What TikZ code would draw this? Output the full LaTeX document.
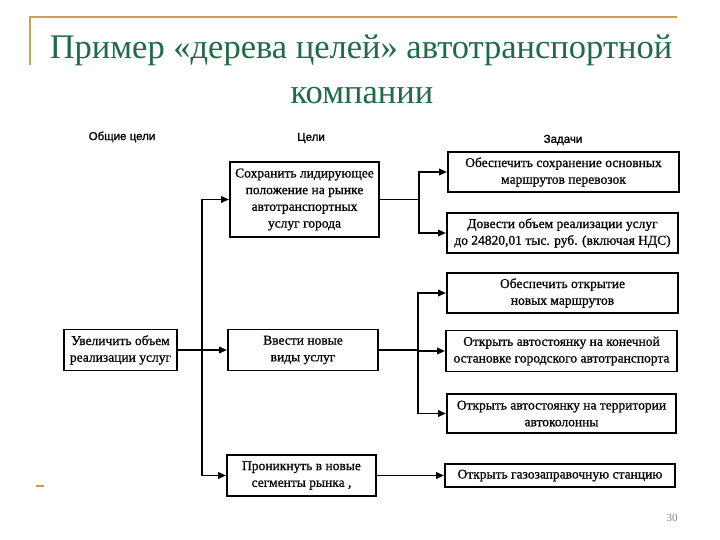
\documentclass[tikz,border=0pt]{standalone}
\usepackage{fontspec}
\setmainfont{Liberation Serif}
\newfontfamily\headfont[FakeBold=1.2]{Liberation Sans}
\newfontfamily\boxfont[FakeBold=0.8]{Liberation Serif}
\usetikzlibrary{arrows.meta}
\definecolor{titlegreen}{HTML}{1F6B47}
\definecolor{slidegold}{HTML}{C4A54C}
\tikzset{
  goal/.style={draw,shape=rectangle,line width=1.9pt,inner sep=0pt,align=center,
    font=\boxfont\fontsize{13.5}{16.7}\selectfont},
  link/.style={line width=1.9pt,-{Triangle[length=8pt,width=6.5pt]}},
  wire/.style={line width=1.9pt},
  head/.style={font=\headfont\fontsize{11.5}{14}\selectfont}
}
\begin{document}
\begin{tikzpicture}[x=1pt,y=-1pt]
   \useasboundingbox[fill=white] (0,0) rectangle (720,540);
   \draw[slidegold,line width=1.5pt] (30,65) -- (30,17) -- (677,17);
   \draw[slidegold,line width=1.5pt] (36,486) -- (44,486);
   \path (361,50) node[titlegreen,font=\fontsize{34.5}{40}\selectfont] (T1)
   {Пример «дерева целей» автотранспортной};
   \path (362,96) node[titlegreen,font=\fontsize{34.5}{40}\selectfont] (T2) {компании};
   \path (672,518) node[gray,font=\fontsize{11}{13}\selectfont] (P) {30};

   \path (122,137) node[head] (H1) {Общие цели};
   \path (311,138) node[head] (H2) {Цели};
   \path (563,140) node[head] (H3) {Задачи};

   \path (120.5,350) node[goal,minimum width=113pt,minimum height=41pt] (G)
   {Увеличить объем\\реализации услуг};
   \path (304.5,199.5) node[goal,minimum width=149pt,minimum height=75pt] (A)
   {Сохранить лидирующее\\положение на рынке\\автотранспортных\\услуг города};
   \path (303,350) node[goal,minimum width=150pt,minimum height=41pt] (B)
   {Ввести новые\\виды услуг};
   \path (301.5,475.5) node[goal,minimum width=149pt,minimum height=41pt] (C)
   {Проникнуть в новые\\сегменты рынка ,};

   \path (563.5,172) node[goal,minimum width=231pt,minimum height=40pt] (A1)
   {Обеспечить сохранение основных\\маршрутов перевозок};
   \path (562.5,233) node[goal,minimum width=231pt,minimum height=40pt] (A2)
   {Довести объем реализации услуг\\до 24820,01 тыс. руб. (включая НДС)};
   \path (562.5,293) node[goal,minimum width=231pt,minimum height=40pt] (B1)
   {Обеспечить открытие\\новых маршрутов};
   \path (561.5,351) node[goal,minimum width=231pt,minimum height=41pt] (B2)
   {Открыть автостоянку на конечной\\остановке городского автотранспорта};
   \path (561.5,413.5) node[goal,minimum width=229pt,minimum height=39pt] (B3)
   {Открыть автостоянку на территории\\автоколонны};
   \path (560,475.5) node[goal,minimum width=230pt,minimum height=23pt] (C1)
   {Открыть газозаправочную станцию};

   \coordinate (GJ) at (202,350);
   \coordinate (AJ) at (419,199.5);
   \coordinate (BJ) at (418,350);

   \draw[link] (G.east) -- (B.west);
   \draw[link] (GJ) |- (A.west);
   \draw[link] (GJ) |- (C.west);
   \draw[wire] (A.east) -- (AJ);
   \draw[link] (AJ) |- (A1.west);
   \draw[link] (AJ) |- (A2.west);
   \draw[wire] (B.east) -- (BJ);
   \draw[link] (BJ) |- (B1.west);
   \draw[link] (BJ) |- (B2.west);
   \draw[link] (BJ) |- (B3.west);
   \draw[link] (C.east) -- (C1.west);
\end{tikzpicture}
\end{document}
